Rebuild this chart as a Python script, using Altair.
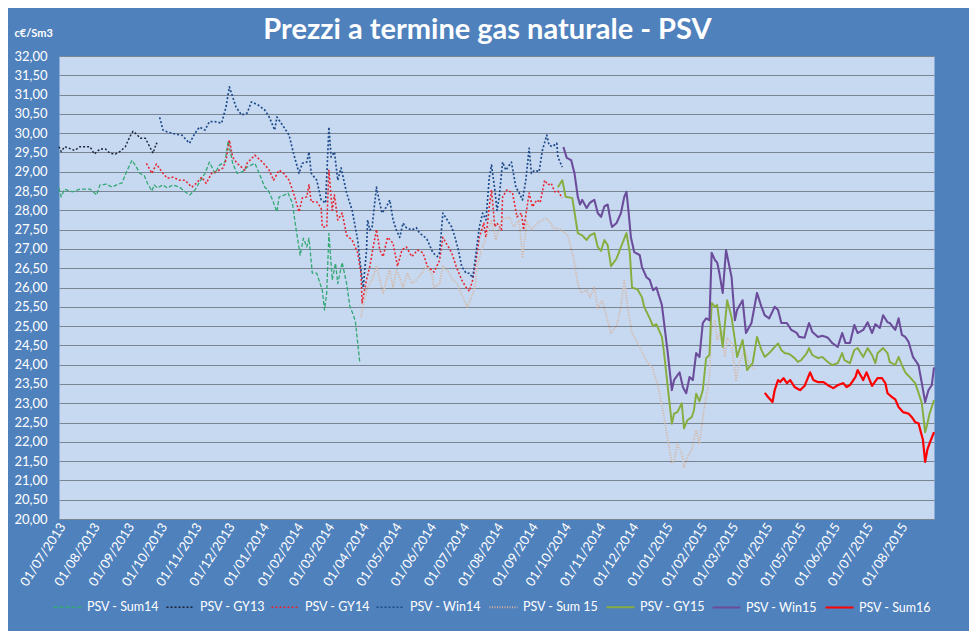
import altair as alt
import pandas as pd

TITLE = "Prezzi a termine gas naturale - PSV"
Y_TITLE = "c€/Sm3"
SERIES = ["PSV - Sum14", "PSV - GY13", "PSV - GY14", "PSV - Win14",
          "PSV - Sum 15", "PSV - GY15", "PSV - Win15", "PSV - Sum16"]
COLORS = ["#33A873", "#1B2233", "#E8242E", "#1F4A8A",
          "#D8B49C", "#86AD3E", "#6B4C9A", "#FF0000"]
DASHES = [[4, 2], [2, 2], [2, 2], [2, 2], [1, 1.5], [1, 0], [1, 0], [1, 0]]
WIDTHS = [1.3, 2.2, 2.2, 2.0, 1.0, 3.2, 3.2, 3.2]

TICK_LABELS = ["01/07/2013", "01/08/2013", "01/09/2013", "01/10/2013", "01/11/2013",
               "01/12/2013", "01/01/2014", "01/02/2014", "01/03/2014", "01/04/2014",
               "01/05/2014", "01/06/2014", "01/07/2014", "01/08/2014", "01/09/2014",
               "01/10/2014", "01/11/2014", "01/12/2014", "01/01/2015", "01/02/2015",
               "01/03/2015", "01/04/2015", "01/05/2015", "01/06/2015", "01/07/2015",
               "01/08/2015"]
Y_TICKS = [20.0, 20.5, 21.0, 21.5, 22.0, 22.5, 23.0, 23.5, 24.0, 24.5, 25.0, 25.5,
           26.0, 26.5, 27.0, 27.5, 28.0, 28.5, 29.0, 29.5, 30.0, 30.5, 31.0, 31.5, 32.0]
X_START = "2013-06-28"
X_END = "2015-08-28"

sum14_dates = ["2013-06-28", "2013-06-30", "2013-07-03", "2013-07-10", "2013-07-17", "2013-07-26",
               "2013-07-29", "2013-08-01", "2013-08-04", "2013-08-10", "2013-08-15", "2013-08-19",
               "2013-08-24", "2013-08-28", "2013-09-02", "2013-09-06", "2013-09-09", "2013-09-13",
               "2013-09-16", "2013-09-20", "2013-09-22", "2013-09-25", "2013-09-30", "2013-10-04",
               "2013-10-09", "2013-10-15", "2013-10-20", "2013-10-24", "2013-10-29", "2013-11-02",
               "2013-11-07", "2013-11-11", "2013-11-16", "2013-11-20", "2013-11-25", "2013-11-28",
               "2013-12-02", "2013-12-06", "2013-12-11", "2013-12-15", "2013-12-22", "2013-12-26",
               "2013-12-31", "2014-01-03", "2014-01-07", "2014-01-11", "2014-01-13", "2014-01-18",
               "2014-01-21", "2014-01-25", "2014-01-28", "2014-02-01", "2014-02-04", "2014-02-07",
               "2014-02-09", "2014-02-12", "2014-02-16", "2014-02-21", "2014-02-23", "2014-02-25",
               "2014-02-27", "2014-03-02", "2014-03-05", "2014-03-07", "2014-03-11", "2014-03-15",
               "2014-03-18", "2014-03-21", "2014-03-23", "2014-03-27"]
sum14_values = [28.58, 28.35, 28.55, 28.48, 28.55, 28.55, 28.48, 28.40, 28.66, 28.68, 28.60, 28.66,
                28.71, 29.00, 29.30, 29.12, 28.96, 28.90, 28.70, 28.50, 28.66, 28.58, 28.66, 28.58,
                28.66, 28.60, 28.48, 28.40, 28.53, 28.73, 28.96, 29.25, 28.96, 29.17, 29.25, 29.80,
                29.22, 28.96, 29.00, 29.12, 29.22, 28.96, 28.60, 28.53, 28.27, 27.96, 28.35, 28.40,
                28.45, 28.19, 27.57, 26.84, 27.28, 27.05, 27.28, 26.37, 26.37, 25.93, 25.42, 25.86,
                27.40, 26.20, 26.63, 26.10, 26.65, 26.10, 25.50, 25.30, 25.10, 24.04]

gy13_dates = ["2013-06-28", "2013-06-30", "2013-07-03", "2013-07-08", "2013-07-12", "2013-07-17",
              "2013-07-26", "2013-07-30", "2013-08-04", "2013-08-09", "2013-08-13", "2013-08-18",
              "2013-08-22", "2013-08-27", "2013-08-31", "2013-09-03", "2013-09-07", "2013-09-09",
              "2013-09-14", "2013-09-18", "2013-09-21", "2013-09-24", "2013-09-26"]
gy13_values = [29.65, 29.52, 29.65, 29.60, 29.55, 29.65, 29.65, 29.46, 29.59, 29.59, 29.48, 29.46,
               29.52, 29.65, 29.91, 30.05, 29.95, 29.87, 29.87, 29.65, 29.48, 29.74, 29.68]

gy14_dates = ["2013-09-15", "2013-09-20", "2013-09-24", "2013-09-30", "2013-10-04", "2013-10-09",
              "2013-10-15", "2013-10-20", "2013-10-26", "2013-10-30", "2013-11-04", "2013-11-08",
              "2013-11-13", "2013-11-17", "2013-11-23", "2013-11-26", "2013-11-29", "2013-12-02",
              "2013-12-06", "2013-12-13", "2013-12-15", "2013-12-22", "2013-12-29", "2014-01-04",
              "2014-01-08", "2014-01-13", "2014-01-17", "2014-01-22", "2014-01-26", "2014-01-31",
              "2014-02-03", "2014-02-07", "2014-02-09", "2014-02-11", "2014-02-16", "2014-02-20",
              "2014-02-21", "2014-02-25", "2014-02-27", "2014-03-02", "2014-03-04", "2014-03-07",
              "2014-03-11", "2014-03-15", "2014-03-20", "2014-03-25", "2014-03-28", "2014-03-29",
              "2014-04-02", "2014-04-05", "2014-04-08", "2014-04-11", "2014-04-14", "2014-04-17",
              "2014-04-21", "2014-04-26", "2014-04-30", "2014-05-04", "2014-05-08", "2014-05-13",
              "2014-05-18", "2014-05-23", "2014-05-27", "2014-06-02", "2014-06-07", "2014-06-10",
              "2014-06-13", "2014-06-18", "2014-06-22", "2014-06-27", "2014-07-01", "2014-07-04",
              "2014-07-07", "2014-07-10", "2014-07-13", "2014-07-17", "2014-07-19", "2014-07-22",
              "2014-07-24", "2014-07-27", "2014-07-29", "2014-08-02", "2014-08-03", "2014-08-07",
              "2014-08-12", "2014-08-16", "2014-08-20", "2014-08-22", "2014-08-27", "2014-08-30",
              "2014-09-03", "2014-09-06", "2014-09-10", "2014-09-13", "2014-09-16", "2014-09-19",
              "2014-09-22", "2014-09-26"]
gy14_values = [29.22, 28.96, 29.20, 28.96, 28.83, 28.86, 28.78, 28.78, 28.60, 28.70, 28.86, 28.70,
               28.96, 29.00, 29.09, 29.30, 29.82, 29.38, 29.22, 29.04, 29.22, 29.43, 29.25, 29.04,
               28.78, 29.04, 28.96, 28.78, 28.45, 27.96, 28.32, 28.35, 28.66, 28.22, 28.22, 28.06,
               27.57, 27.57, 29.04, 28.00, 28.40, 27.75, 27.93, 27.35, 27.23, 26.90, 26.37, 25.60,
               26.20, 26.55, 27.05, 27.50, 26.97, 26.80, 27.30, 27.15, 26.55, 26.97, 27.05, 26.80,
               26.97, 26.90, 26.55, 26.40, 26.70, 27.30, 27.15, 26.90, 26.55, 26.20, 26.00, 25.90,
               26.20, 26.70, 27.30, 27.67, 27.30, 28.10, 28.53, 27.57, 27.67, 27.49, 28.35, 28.53,
               28.45, 27.83, 27.93, 27.49, 28.45, 28.09, 28.27, 28.20, 28.78, 28.66, 28.70, 28.48,
               28.50, 28.32]

win14_dates = ["2013-09-27", "2013-09-30", "2013-10-04", "2013-10-08", "2013-10-12", "2013-10-17",
               "2013-10-24", "2013-10-29", "2013-11-02", "2013-11-07", "2013-11-11", "2013-11-16",
               "2013-11-22", "2013-11-26", "2013-11-29", "2013-12-02", "2013-12-05", "2013-12-10",
               "2013-12-15", "2013-12-19", "2013-12-25", "2013-12-31", "2014-01-04", "2014-01-09",
               "2014-01-11", "2014-01-16", "2014-01-22", "2014-01-26", "2014-01-31", "2014-02-03",
               "2014-02-07", "2014-02-09", "2014-02-11", "2014-02-16", "2014-02-20", "2014-02-24",
               "2014-02-27", "2014-03-01", "2014-03-04", "2014-03-07", "2014-03-10", "2014-03-15",
               "2014-03-20", "2014-03-25", "2014-03-28", "2014-03-30", "2014-04-02", "2014-04-03",
               "2014-04-05", "2014-04-07", "2014-04-09", "2014-04-11", "2014-04-12", "2014-04-16",
               "2014-04-20", "2014-04-23", "2014-04-26", "2014-04-29", "2014-05-02", "2014-05-05",
               "2014-05-08", "2014-05-13", "2014-05-17", "2014-05-20", "2014-05-25", "2014-05-27",
               "2014-06-01", "2014-06-05", "2014-06-07", "2014-06-10", "2014-06-14", "2014-06-18",
               "2014-06-21", "2014-06-24", "2014-06-27", "2014-07-01", "2014-07-04", "2014-07-07",
               "2014-07-10", "2014-07-13", "2014-07-16", "2014-07-19", "2014-07-22", "2014-07-24",
               "2014-07-27", "2014-07-29", "2014-07-31", "2014-08-03", "2014-08-06", "2014-08-11",
               "2014-08-15", "2014-08-18", "2014-08-21", "2014-08-24", "2014-08-27", "2014-08-29",
               "2014-09-01", "2014-09-05", "2014-09-08", "2014-09-12", "2014-09-14", "2014-09-17",
               "2014-09-21", "2014-09-22", "2014-09-26"]
win14_values = [30.41, 30.08, 30.03, 30.00, 29.97, 29.95, 29.74, 30.00, 30.16, 30.08, 30.30, 30.30,
                30.26, 30.68, 31.20, 30.94, 30.68, 30.47, 30.52, 30.81, 30.73, 30.60, 30.42, 30.08,
                30.42, 30.21, 29.95, 29.48, 28.96, 29.22, 29.25, 29.51, 28.96, 28.78, 28.27, 28.19,
                30.16, 29.38, 29.51, 28.78, 29.10, 28.45, 28.00, 27.23, 26.45, 26.00, 26.97, 27.75,
                27.49, 27.55, 28.09, 28.60, 28.45, 27.93, 28.09, 28.27, 27.75, 27.49, 27.30, 27.67,
                27.55, 27.49, 27.55, 27.41, 27.30, 27.23, 26.90, 26.80, 26.90, 27.93, 27.75, 27.57,
                27.30, 26.97, 26.55, 26.37, 26.37, 26.25, 26.90, 27.57, 27.93, 27.75, 28.86, 29.17,
                28.53, 28.00, 28.35, 29.25, 29.04, 29.25, 28.60, 28.45, 28.27, 28.78, 29.61, 28.96,
                29.04, 29.00, 29.56, 29.95, 29.69, 29.65, 29.74, 29.38, 29.12]

sum15_dates = ["2014-03-28", "2014-03-31", "2014-04-03", "2014-04-07", "2014-04-11", "2014-04-14",
               "2014-04-17", "2014-04-20", "2014-04-23", "2014-04-26", "2014-04-29", "2014-05-02",
               "2014-05-05", "2014-05-09", "2014-05-13", "2014-05-17", "2014-05-22", "2014-05-26",
               "2014-05-31", "2014-06-02", "2014-06-07", "2014-06-10", "2014-06-14", "2014-06-19",
               "2014-06-23", "2014-06-28", "2014-07-02", "2014-07-06", "2014-07-09", "2014-07-11",
               "2014-07-15", "2014-07-19", "2014-07-24", "2014-07-28", "2014-08-02", "2014-08-09",
               "2014-08-13", "2014-08-18", "2014-08-21", "2014-08-25", "2014-08-29", "2014-09-05",
               "2014-09-12", "2014-09-18", "2014-09-25", "2014-10-01", "2014-10-06", "2014-10-10",
               "2014-10-13", "2014-10-18", "2014-10-21", "2014-10-25", "2014-10-28", "2014-11-01",
               "2014-11-06", "2014-11-09", "2014-11-14", "2014-11-18", "2014-11-21", "2014-11-24",
               "2014-11-28", "2014-12-05", "2014-12-11", "2014-12-16", "2014-12-21", "2014-12-26",
               "2014-12-30", "2015-01-03", "2015-01-05", "2015-01-08", "2015-01-12", "2015-01-14",
               "2015-01-17", "2015-01-21", "2015-01-25", "2015-01-28", "2015-01-31", "2015-02-03",
               "2015-02-06", "2015-02-08", "2015-02-11", "2015-02-13", "2015-02-17", "2015-02-20",
               "2015-02-22", "2015-02-26", "2015-03-02", "2015-03-05", "2015-03-10", "2015-03-14",
               "2015-03-19"]
sum15_values = [25.23, 25.67, 26.00, 26.20, 26.55, 26.20, 25.86, 26.20, 26.45, 26.00, 26.45, 26.27,
                26.00, 26.37, 26.10, 26.20, 26.37, 26.55, 26.37, 26.00, 26.10, 26.55, 26.45, 26.20,
                26.10, 25.75, 25.50, 25.75, 26.00, 26.55, 26.97, 27.30, 27.75, 27.23, 27.75, 27.83,
                27.57, 27.75, 26.80, 27.70, 27.50, 27.70, 27.80, 27.55, 27.49, 27.35, 26.80, 26.10,
                25.86, 25.93, 25.75, 26.00, 25.45, 25.67, 25.15, 24.82, 25.00, 25.50, 26.20, 25.50,
                24.82, 24.46, 24.10, 23.95, 23.50, 22.80, 22.13, 21.45, 21.50, 21.95, 21.70, 21.35,
                21.60, 21.80, 22.30, 21.95, 22.64, 23.16, 23.70, 24.97, 25.15, 24.64, 24.90, 24.20,
                24.70, 24.55, 23.60, 24.04, 24.38, 24.04, 23.85]

gy15_dates = ["2014-09-22", "2014-09-26", "2014-09-29", "2014-10-05", "2014-10-10", "2014-10-14",
              "2014-10-18", "2014-10-21", "2014-10-25", "2014-10-28", "2014-10-31", "2014-11-03",
              "2014-11-06", "2014-11-09", "2014-11-14", "2014-11-18", "2014-11-23", "2014-11-26",
              "2014-11-28", "2014-12-03", "2014-12-07", "2014-12-09", "2014-12-14", "2014-12-17",
              "2014-12-20", "2014-12-25", "2014-12-27", "2014-12-30", "2015-01-03", "2015-01-05",
              "2015-01-08", "2015-01-12", "2015-01-14", "2015-01-17", "2015-01-21", "2015-01-23",
              "2015-01-25", "2015-01-28", "2015-01-31", "2015-02-03", "2015-02-06", "2015-02-08",
              "2015-02-11", "2015-02-13", "2015-02-16", "2015-02-18", "2015-02-22", "2015-02-26",
              "2015-03-01", "2015-03-03", "2015-03-08", "2015-03-12", "2015-03-17", "2015-03-21",
              "2015-03-25", "2015-03-28", "2015-04-01", "2015-04-06", "2015-04-09", "2015-04-12",
              "2015-04-15", "2015-04-19", "2015-04-24", "2015-04-27", "2015-04-30", "2015-05-05",
              "2015-05-07", "2015-05-10", "2015-05-15", "2015-05-19", "2015-05-24", "2015-05-28",
              "2015-06-02", "2015-06-06", "2015-06-08", "2015-06-13", "2015-06-17", "2015-06-20",
              "2015-06-25", "2015-06-29", "2015-07-03", "2015-07-06", "2015-07-08", "2015-07-13",
              "2015-07-17", "2015-07-19", "2015-07-24", "2015-07-27", "2015-07-30", "2015-08-02",
              "2015-08-06", "2015-08-11", "2015-08-14", "2015-08-17", "2015-08-20", "2015-08-22",
              "2015-08-24", "2015-08-28"]
gy15_values = [28.60, 28.78, 28.35, 28.32, 27.41, 27.35, 27.23, 27.35, 27.41, 27.05, 26.95, 27.23,
               27.10, 26.55, 26.75, 27.05, 27.41, 26.90, 26.00, 25.95, 25.75, 25.50, 25.20, 25.00,
               25.05, 24.72, 24.30, 23.50, 22.47, 22.73, 22.77, 23.00, 22.35, 22.56, 22.64, 22.82,
               23.25, 23.05, 23.34, 24.17, 24.25, 25.60, 25.50, 25.55, 24.90, 24.46, 25.67, 25.23,
               24.64, 24.20, 24.64, 23.86, 24.04, 24.72, 24.38, 24.20, 24.30, 24.46, 24.55, 24.38,
               24.30, 24.28, 24.17, 24.07, 24.12, 24.30, 24.43, 24.25, 24.17, 24.20, 24.07, 23.99,
               24.04, 24.30, 24.12, 24.04, 24.38, 24.43, 24.20, 24.43, 24.25, 24.04, 24.30, 24.43,
               24.30, 24.07, 23.99, 24.20, 23.99, 23.80, 23.68, 23.52, 23.27, 23.00, 22.25, 22.47,
               22.73, 23.08]

win15_dates = ["2014-09-27", "2014-09-30", "2014-10-04", "2014-10-07", "2014-10-10", "2014-10-12",
               "2014-10-14", "2014-10-18", "2014-10-21", "2014-10-25", "2014-10-28", "2014-10-31",
               "2014-11-03", "2014-11-06", "2014-11-09", "2014-11-10", "2014-11-14", "2014-11-18",
               "2014-11-21", "2014-11-23", "2014-11-25", "2014-11-27", "2014-11-30", "2014-12-05",
               "2014-12-07", "2014-12-11", "2014-12-14", "2014-12-17", "2014-12-20", "2014-12-25",
               "2014-12-27", "2014-12-30", "2015-01-03", "2015-01-05", "2015-01-10", "2015-01-13",
               "2015-01-16", "2015-01-19", "2015-01-22", "2015-01-25", "2015-01-28", "2015-01-31",
               "2015-02-03", "2015-02-06", "2015-02-08", "2015-02-11", "2015-02-13", "2015-02-15",
               "2015-02-18", "2015-02-21", "2015-02-26", "2015-03-01", "2015-03-03", "2015-03-08",
               "2015-03-11", "2015-03-16", "2015-03-21", "2015-03-25", "2015-03-28", "2015-04-01",
               "2015-04-06", "2015-04-09", "2015-04-12", "2015-04-17", "2015-04-21", "2015-04-26",
               "2015-04-28", "2015-05-03", "2015-05-07", "2015-05-10", "2015-05-15", "2015-05-19",
               "2015-05-24", "2015-05-28", "2015-06-02", "2015-06-06", "2015-06-09", "2015-06-13",
               "2015-06-17", "2015-06-20", "2015-06-25", "2015-06-29", "2015-07-03", "2015-07-06",
               "2015-07-10", "2015-07-13", "2015-07-17", "2015-07-19", "2015-07-24", "2015-07-27",
               "2015-07-30", "2015-08-02", "2015-08-05", "2015-08-09", "2015-08-14", "2015-08-17",
               "2015-08-20", "2015-08-23", "2015-08-26", "2015-08-28"]
win15_values = [29.64, 29.36, 29.30, 28.96, 28.35, 28.15, 28.27, 28.06, 28.20, 28.27, 27.93, 27.83,
                28.10, 28.15, 27.67, 27.57, 27.67, 27.93, 28.35, 28.48, 27.93, 27.30, 26.92, 26.84,
                26.53, 26.27, 26.20, 25.93, 26.00, 25.55, 25.08, 24.38, 23.34, 23.60, 23.80, 23.42,
                23.26, 23.68, 23.60, 24.30, 24.20, 25.08, 25.20, 25.15, 26.90, 26.71, 26.65, 26.37,
                25.86, 26.97, 26.27, 25.15, 25.42, 25.67, 24.82, 25.08, 25.86, 25.50, 25.28, 25.20,
                25.50, 25.42, 25.08, 25.08, 24.90, 24.82, 24.72, 24.70, 25.08, 24.85, 24.72, 24.75,
                24.70, 24.56, 24.46, 24.82, 24.56, 24.56, 25.03, 24.82, 24.90, 25.10, 24.82, 25.05,
                24.95, 25.28, 25.10, 25.08, 24.90, 25.20, 24.77, 24.72, 24.59, 24.20, 23.99, 23.52,
                23.03, 23.34, 23.47, 23.93]

sum16_dates = ["2015-03-28", "2015-03-31", "2015-04-04", "2015-04-06", "2015-04-09", "2015-04-11",
               "2015-04-14", "2015-04-17", "2015-04-20", "2015-04-24", "2015-04-29", "2015-05-03",
               "2015-05-08", "2015-05-11", "2015-05-15", "2015-05-20", "2015-05-24", "2015-05-29",
               "2015-06-02", "2015-06-07", "2015-06-10", "2015-06-13", "2015-06-18", "2015-06-20",
               "2015-06-25", "2015-06-28", "2015-07-03", "2015-07-08", "2015-07-12", "2015-07-15",
               "2015-07-17", "2015-07-21", "2015-07-24", "2015-07-27", "2015-07-31", "2015-08-05",
               "2015-08-08", "2015-08-11", "2015-08-14", "2015-08-18", "2015-08-20", "2015-08-22",
               "2015-08-24", "2015-08-28"]
sum16_values = [23.27, 23.16, 23.03, 23.34, 23.60, 23.55, 23.65, 23.52, 23.60, 23.42, 23.34, 23.45,
                23.80, 23.60, 23.55, 23.55, 23.47, 23.39, 23.47, 23.52, 23.42, 23.47, 23.68, 23.86,
                23.60, 23.80, 23.45, 23.65, 23.65, 23.52, 23.26, 23.16, 23.10, 22.90, 22.77, 22.73,
                22.64, 22.51, 22.48, 22.05, 21.48, 21.80, 21.96, 22.25]

series_data = [
    (SERIES[0], sum14_dates, sum14_values),
    (SERIES[1], gy13_dates, gy13_values),
    (SERIES[2], gy14_dates, gy14_values),
    (SERIES[3], win14_dates, win14_values),
    (SERIES[4], sum15_dates, sum15_values),
    (SERIES[5], gy15_dates, gy15_values),
    (SERIES[6], win15_dates, win15_values),
    (SERIES[7], sum16_dates, sum16_values),
]
rows = []
for order, (name, dates, vals) in enumerate(series_data):
    for d, v in zip(dates, vals):
        rows.append({"series": name, "date": d, "value": v, "order": order})
df = pd.DataFrame(rows)


def to_dt(s):
    y, m, d = s.split("-")
    return alt.DateTime(year=int(y), month=int(m), date=int(d), utc=True)


tick_values = []
for lab in TICK_LABELS:
    d, m, y = lab.split("/")
    tick_values.append(alt.DateTime(year=int(y), month=int(m), date=int(d), utc=True))

FONT = "Lato"

chart = alt.Chart(df).mark_line(strokeJoin="round").encode(
    x=alt.X("date:T",
            scale=alt.Scale(type="utc", domain=[to_dt(X_START), to_dt(X_END)], nice=False),
            axis=alt.Axis(values=tick_values, labelExpr="utcFormat(datum.value, '%d/%m/%Y')",
                          labelAngle=303, labelAlign="right", labelBaseline="middle",
                          labelPadding=5, labelColor="white", labelFontSize=13, labelFont=FONT,
                          labelOverlap=False, labelFlush=False, labelBound=False,
                          grid=False, ticks=False, domain=False, title=None)),
    y=alt.Y("value:Q",
            scale=alt.Scale(domain=[20, 32], nice=False, zero=False),
            axis=alt.Axis(values=Y_TICKS,
                          labelExpr="replace(format(datum.value, '.2f'), '.', ',')",
                          labelColor="white", labelFontSize=13, labelFont=FONT, labelPadding=12,
                          ticks=False, domain=False, grid=True, gridColor="#7A8593",
                          gridWidth=1.2, title=Y_TITLE, titleAngle=0, titleX=-45, titleY=-23,
                          titleAlign="left", titleBaseline="middle", titleColor="white",
                          titleFontSize=11, titleFont=FONT, titleFontWeight="bold")),
    color=alt.Color("series:N", scale=alt.Scale(domain=SERIES, range=COLORS),
                    legend=alt.Legend(title=None, orient="none", legendX=-7, legendY=536,
                                      direction="horizontal", columns=8, symbolType="stroke",
                                      symbolSize=784, labelColor="white", labelFontSize=12.5,
                                      labelFont=FONT, labelOffset=4, columnPadding=3,
                                      labelLimit=200)),
    strokeDash=alt.StrokeDash("series:N", scale=alt.Scale(domain=SERIES, range=DASHES)),
    strokeWidth=alt.StrokeWidth("series:N", scale=alt.Scale(domain=SERIES, range=WIDTHS)),
    order=alt.Order("order:Q"),
    detail="series:N",
).properties(
    width=875,
    height=463,
    autosize=alt.AutoSizeParams(type="none"),
    padding={"left": 51, "top": 48, "right": 35, "bottom": 112},
    title=alt.TitleParams(TITLE, anchor="middle", frame="group", dx=-9, dy=55, offset=14,
                          baseline="alphabetic", fontSize=29, font=FONT, fontWeight="bold",
                          color="white"),
).configure(
    background="#4F81BD",
).configure_view(
    fill="#C6D9F1",
    stroke="transparent",
)

chart.save("out.html", embed_options={"renderer": "svg", "actions": False})
